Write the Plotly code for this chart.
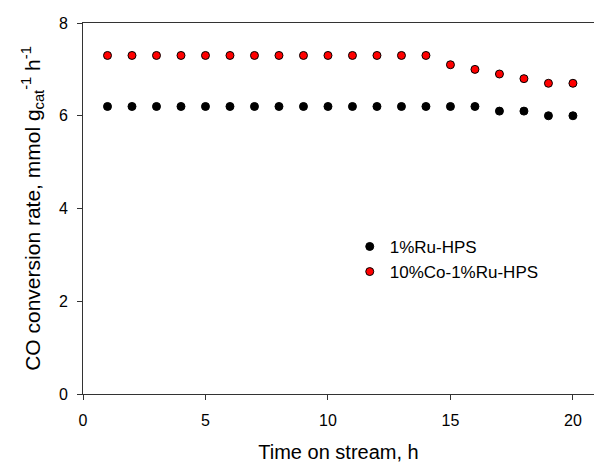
import plotly.graph_objects as go

hours = list(range(1, 21))
ru_hps = [6.2]*16 + [6.1, 6.1, 6.0, 6.0]
co_ru_hps = [7.3]*14 + [7.1, 7.0, 6.9, 6.8, 6.7, 6.7]
series_names = ["1%Ru-HPS", "10%Co-1%Ru-HPS"]

font = "Liberation Sans, Arial, sans-serif"
fig = go.Figure()
fig.add_trace(go.Scatter(x=hours, y=ru_hps, mode="markers", name=series_names[0],
                         marker=dict(size=8, color="black", line=dict(color="black", width=1))))
fig.add_trace(go.Scatter(x=hours, y=co_ru_hps, mode="markers", name=series_names[1],
                         marker=dict(size=8, color="red", line=dict(color="black", width=1))))

axis_color = "#333"
fig.update_layout(
    width=594, height=463,
    margin=dict(l=82.5, r=0, t=23, b=69),
    plot_bgcolor="white", paper_bgcolor="white",
    font=dict(family=font, size=16, color="black"),
    showlegend=True,
    legend=dict(x=0.522, y=0.445, xanchor="left", yanchor="top", bgcolor="rgba(0,0,0,0)",
                font=dict(size=17), itemsizing="trace", tracegroupgap=0),
    xaxis=dict(range=[0, 20.86], tickvals=[0, 5, 10, 15, 20], ticks="outside", ticklen=5,
               tickcolor=axis_color, showline=True, linecolor=axis_color, linewidth=1, mirror=True,
               showgrid=False, zeroline=False, automargin=False, tickfont=dict(size=16),
               ticklabelstandoff=7,
               title=dict(text="Time on stream, h", font=dict(size=20), standoff=24)),
    yaxis=dict(range=[0, 8], tickvals=[0, 2, 4, 6, 8], ticks="outside", ticklen=5,
               tickcolor=axis_color, showline=True, linecolor=axis_color, linewidth=1,
               showgrid=False, zeroline=False, automargin=False, tickfont=dict(size=16),
               ticklabelstandoff=6,
               title=dict(text="CO conversion rate, mmol g<sub>cat</sub><sup>-1</sup> h<sup>-1</sup>",
                          font=dict(size=21), standoff=12)),
)
fig.write_html("out.html", config={"displayModeBar": False},
               post_script="document.body.style.margin='0';document.body.style.padding='0';")
